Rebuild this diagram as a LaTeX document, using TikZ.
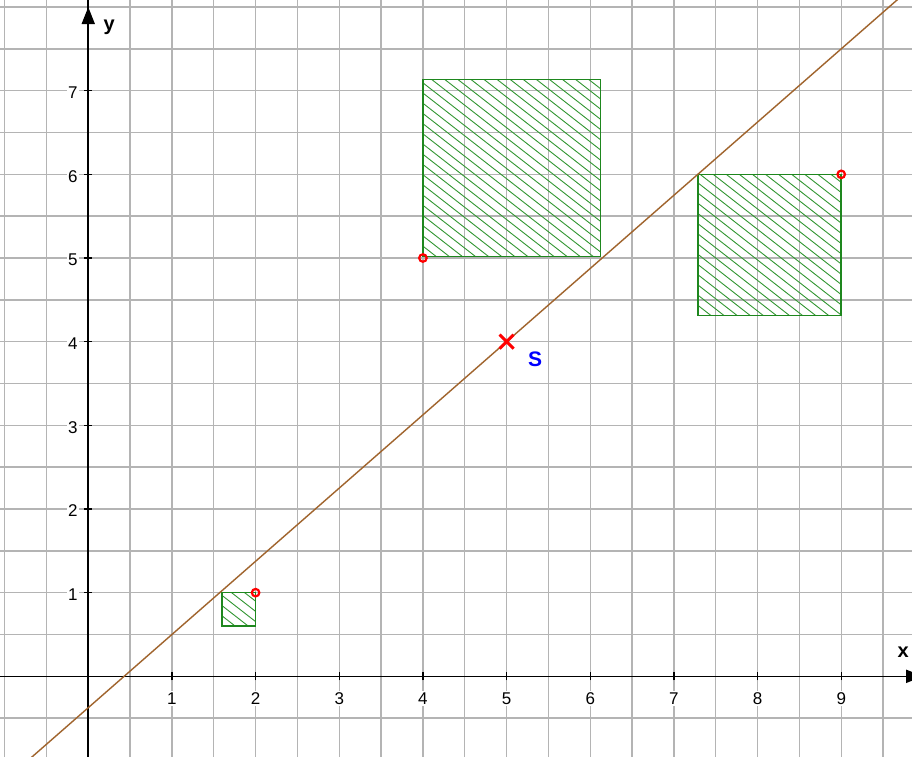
\documentclass[tikz,border=0pt]{standalone}
\usepackage{fontspec}
\setmainfont{Liberation Sans}
\usetikzlibrary{arrows.meta}
\definecolor{gridc}{RGB}{180,180,180}
\definecolor{brownl}{RGB}{160,100,45}
\definecolor{sqborder}{RGB}{30,135,30}
\definecolor{sqhatch}{RGB}{50,150,50}
\begin{document}
\begin{tikzpicture}[x=83.66pt,y=83.66pt,
 gridline/.style={draw=gridc,line width=1.4pt},
 axisline/.style={line width=1.6pt,draw=black},
 axisarrow/.style={line width=1.6pt,draw=black,-{Triangle[length=17pt,width=13pt]}},
 tickmark/.style={line width=1.2pt,draw=black},
 ticklab/.style={fill=white,inner sep=1.5pt,font=\fontsize{17}{19}\selectfont},
 axlab/.style={anchor=base,inner sep=0pt,font=\fontsize{20}{22}\selectfont\bfseries},
 sqbox/.style={draw=sqborder,line width=1.5pt},
 hatchline/.style={draw=sqhatch,line width=0.9pt},
 ptmark/.style={draw=red,line width=2.2pt,circle,minimum size=7.5pt,inner sep=0pt},
 slopeline/.style={draw=brownl,line width=1.4pt},
 crossmark/.style={draw=red,line width=3pt},
 slab/.style={text=blue,inner sep=0pt,font=\fontsize{21}{23}\selectfont\bfseries}]
\useasboundingbox (-1.055,-0.953) rectangle (9.846,8.084);
\clip (-1.055,-0.953) rectangle (9.846,8.084);
\fill[white] (-1.2,-1.2) rectangle (10,8.3);
% grid
\draw[gridline] (-1.5,-1.5) grid[step=0.5] (10.5,8.5);
% tick labels
\foreach \k in {1,...,9}
  \node[ticklab] (xl\k) at (\k,0) [yshift=-22pt] {\k};
\foreach \k in {1,...,7}
  \node[ticklab] (yl\k) at (0,\k) [xshift=-15.5pt,yshift=-2pt] {\k};
% axes
\coordinate (xs) at (-1.2,0);
\coordinate (xe) at (9.98,0);
\coordinate (ys) at (0,-1.2);
\coordinate (ye) at (0,8.0);
\coordinate (yt) at (0,8.2);
\draw[axisline] (ys) -- (yt);
\draw[axisarrow] (ys) -- (ye);
\draw[axisarrow] (xs) -- (xe);
\foreach \k in {1,...,9}
  \draw[tickmark] (\k,0) ++(0,-4pt) -- ++(0,8pt);
\foreach \k in {1,...,7}
  \draw[tickmark] (0,\k) ++(-4pt,0) -- ++(8pt,0);
\node[axlab] (xlab) at (9.74,0.227) {x};
\node[axlab] (ylab) at (0.25,7.72) {y};
% squares
\coordinate (a1) at (1.6,0.6);  \coordinate (b1) at (2,1);
\coordinate (a2) at (4,5.02);   \coordinate (b2) at (6.12,7.135);
\coordinate (a3) at (7.29,4.31); \coordinate (b3) at (9,6);
\begin{scope}
\clip (a1) rectangle (b1);
\foreach \k in {0,...,7}
  \draw[hatchline] (1.6,{0.6+\k*0.122}) -- ++(3,-2.34);
\end{scope}
\begin{scope}
\clip (a2) rectangle (b2);
\foreach \k in {0,...,32}
  \draw[hatchline] (4,{5.02+\k*0.122}) -- ++(4,-3.12);
\end{scope}
\begin{scope}
\clip (a3) rectangle (b3);
\foreach \k in {0,...,26}
  \draw[hatchline] (7.29,{4.31+\k*0.122}) -- ++(4,-3.12);
\end{scope}
\draw[sqbox] (a1) rectangle (b1);
\draw[sqbox] (a2) rectangle (b2);
\draw[sqbox] (a3) rectangle (b3);
% line through S
\coordinate (ls) at (-1.2,-1.425);
\coordinate (le) at (10,8.375);
\draw[slopeline] (ls) -- (le);
% points
\node[ptmark] (p1) at (2,1) {};
\node[ptmark] (p2) at (4,5) {};
\node[ptmark] (p3) at (9,6) {};
% S
\coordinate (S) at (5,4);
\draw[crossmark] (S) ++(-7pt,-7pt) -- ++(14pt,14pt);
\draw[crossmark] (S) ++(-7pt,7pt) -- ++(14pt,-14pt);
\node[slab] (slabel) at (5.34,3.79) {S};
\end{tikzpicture}
\end{document}
